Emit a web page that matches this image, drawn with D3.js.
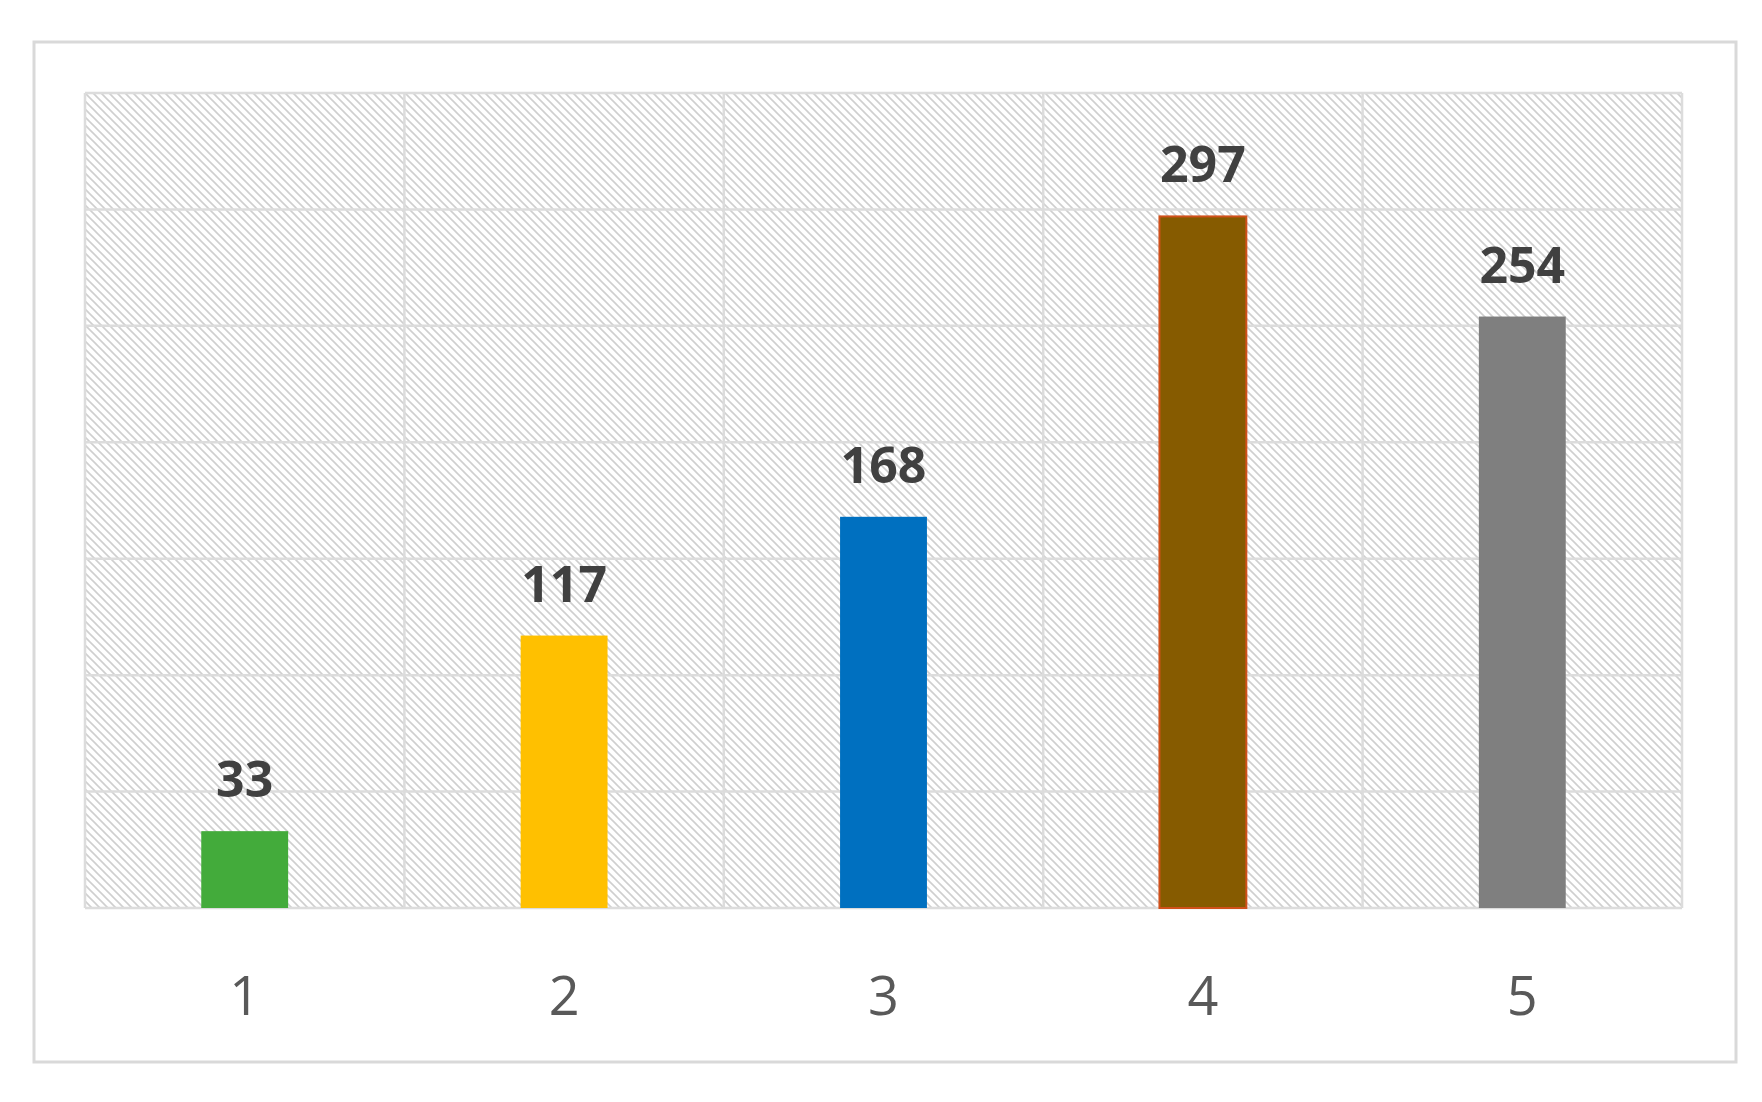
<!DOCTYPE html>
<html><head><meta charset="utf-8">
<script src="https://cdn.jsdelivr.net/npm/d3@7"></script>
<style>body{margin:0;background:#fff}</style></head>
<body><svg id="c" width="1762" height="1102"></svg>
<script>
const categories = ["1","2","3","4","5"];
const values = [33,117,168,297,254];
const colors = ["#43ab3b","#ffc000","#0070c0","#865b00","#7f7f7f"];
const strokes = ["none","none","none","#d0501a","none"];
const yTicks = [0,50,100,150,200,250,300,350];

const svg = d3.select("#c");
svg.append("rect").attr("x",34).attr("y",42).attr("width",1702).attr("height",1020)
  .attr("fill","#fff").attr("stroke","#d9d9d9").attr("stroke-width",3);
const defs = svg.append("defs");
const p = defs.append("pattern").attr("id","hatch").attr("patternUnits","userSpaceOnUse")
  .attr("width",8).attr("height",8);
p.append("rect").attr("width",8).attr("height",8).attr("fill","#fff");
p.append("path").attr("d","M-2,-2 L10,10 M-2,6 L2,10 M6,-2 L10,2").attr("stroke","#cfcfcf").attr("stroke-width",1.6);

const L=85,R=1682,T=93,B=908;
const x = d3.scaleBand().domain(categories).range([L,R]).paddingInner(0).paddingOuter(0);
const y = d3.scaleLinear().domain([0,350]).range([B,T]);
svg.append("rect").attr("x",L).attr("y",T).attr("width",R-L).attr("height",B-T).attr("fill","url(#hatch)");
svg.append("g").selectAll("line").data(yTicks).join("line")
  .attr("x1",L).attr("x2",R).attr("y1",d=>y(d)).attr("y2",d=>y(d))
  .attr("stroke","#dcdcdc").attr("stroke-width",2.5);
svg.append("g").selectAll("line").data(d3.range(categories.length+1)).join("line")
  .attr("x1",i=>L+i*x.bandwidth()).attr("x2",i=>L+i*x.bandwidth()).attr("y1",T).attr("y2",B)
  .attr("stroke","#dcdcdc").attr("stroke-width",2.5);
const bw = x.bandwidth()*0.272;
svg.append("g").selectAll("rect").data(values).join("rect")
  .attr("x",(d,i)=>x(categories[i])+x.bandwidth()/2-bw/2).attr("width",bw)
  .attr("y",d=>y(d)).attr("height",d=>B-y(d))
  .attr("fill",(d,i)=>colors[i]).attr("stroke",(d,i)=>strokes[i]).attr("stroke-width",2);
svg.append("g").selectAll("text").data(values).join("text")
  .attr("x",(d,i)=>x(categories[i])+x.bandwidth()/2).attr("y",d=>y(d)-34)
  .attr("text-anchor","middle").attr("font-family","Open Sans").attr("font-weight","bold")
  .attr("font-size",50).attr("fill","#404040").text(d=>d);
const ax = svg.append("g").attr("transform",`translate(0,${B})`).call(d3.axisBottom(x).tickSize(0).tickPadding(0));
ax.select(".domain").remove();
ax.selectAll("text").attr("y",107).attr("dy",0).attr("font-family","Open Sans")
  .attr("font-size",54).attr("fill","#595959");
</script></body></html>
